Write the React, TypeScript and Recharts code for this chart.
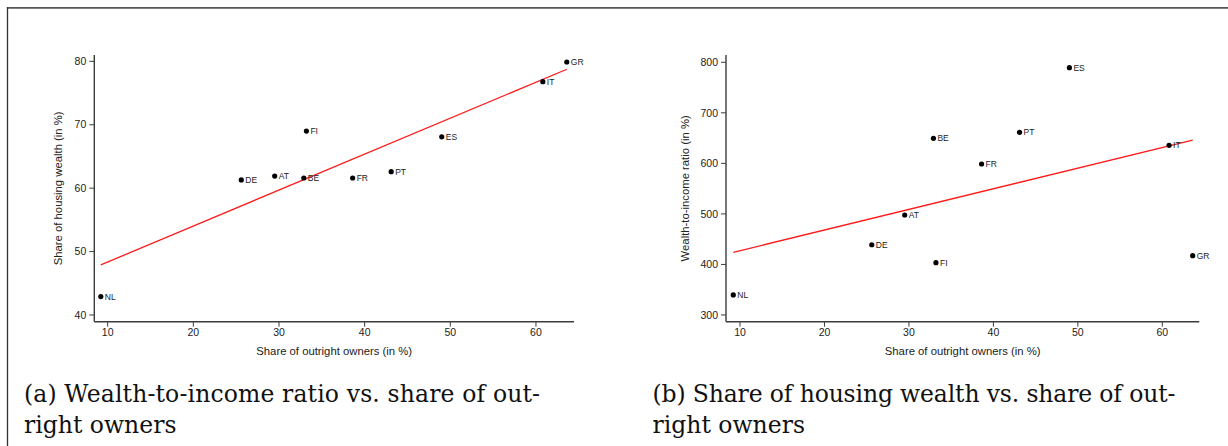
import React from 'react';
import { ComposedChart, Scatter, XAxis, YAxis, ReferenceLine } from 'recharts';

// ---- data ----
const countries = ['NL', 'DE', 'AT', 'BE', 'FI', 'FR', 'PT', 'ES', 'IT', 'GR'];
const outrightShare = [9.2, 25.6, 29.5, 32.9, 33.2, 38.6, 43.1, 49.0, 60.8, 63.6];
const housingWealthShare = [42.9, 61.3, 61.9, 61.6, 69.0, 61.6, 62.6, 68.1, 76.8, 79.9];
const wealthIncomeRatio = [339.6, 439, 497.8, 649.5, 403.5, 598.7, 661.4, 789.3, 635.7, 417.4];

const fitX = [9.2, 63.6];
const fitYA = [47.9, 78.75];
const fitYB = [424, 646];

const xTicks = [10, 20, 30, 40, 50, 60];
const yTicksA = [40, 50, 60, 70, 80];
const yTicksB = [300, 400, 500, 600, 700, 800];

const xDomainA = [8.44, 64.44];
const yDomainA = [38.94, 81.0];
const xDomainB = [8.34, 64.38];
const yDomainB = [286.7, 814.4];

const xTitle = 'Share of outright owners (in %)';
const yTitleA = 'Share of housing wealth (in %)';
const yTitleB = 'Wealth-to-income ratio (in %)';
const captionA = ['(a) Wealth-to-income ratio vs. share of out-', 'right owners'];
const captionB = ['(b) Share of housing wealth vs. share of out-', 'right owners'];

const dataA = countries.map((c, i) => ({ name: c, x: outrightShare[i], y: housingWealthShare[i] }));
const dataB = countries.map((c, i) => ({ name: c, x: outrightShare[i], y: wealthIncomeRatio[i] }));

const SANS = '"Liberation Sans", Arial, sans-serif';
const SERIF = '"DejaVu Serif", "Liberation Serif", serif';
const AXIS = '#3c3c3c';

const PointShape = (props: any) => {
  const { cx, cy, payload } = props;
  if (cx == null || cy == null) return null;
  return (
    <g>
      <circle cx={cx} cy={cy} r={2.6} fill="#000" />
      <text x={cx + 4} y={cy} dy="0.36em" fontSize={8.5} fill="#222" fontFamily={SANS}>
        {payload.name}
      </text>
    </g>
  );
};

const makeYTitle = (text: string, dx: number) => (props: any) => {
  const vb = props.viewBox || {};
  const x = vb.x + dx;
  const y = vb.y + vb.height / 2;
  return (
    <text
      x={x}
      y={y}
      transform={`rotate(-90 ${x} ${y})`}
      textAnchor="middle"
      dominantBaseline="central"
      fontSize={11.3}
      fill="#222"
      fontFamily={SANS}
    >
      {text}
    </text>
  );
};

const makeXTitle = (text: string) => (props: any) => {
  const vb = props.viewBox || {};
  return (
    <text
      x={vb.x + vb.width / 2}
      y={vb.y + 33.3}
      textAnchor="middle"
      fontSize={11.3}
      fill="#222"
      fontFamily={SANS}
    >
      {text}
    </text>
  );
};

type PanelProps = {
  data: any[];
  xDomain: number[];
  yDomain: number[];
  yTicks: number[];
  fitY: number[];
  yTitle: string;
  yTitleDx: number;
  marginLeft: number;
  marginRight: number;
};

const Panel = ({ data, xDomain, yDomain, yTicks, fitY, yTitle, yTitleDx, marginLeft, marginRight }: PanelProps) => (
  <ComposedChart
    width={614}
    height={370}
    data={data}
    margin={{ top: 55, right: marginRight, bottom: 18.3, left: marginLeft }}
  >
    <XAxis
      type="number"
      dataKey="x"
      domain={xDomain}
      ticks={xTicks}
      height={30}
      tickSize={5}
      tickMargin={2}
      axisLine={{ stroke: AXIS, strokeWidth: 1.4 }}
      tickLine={{ stroke: AXIS, strokeWidth: 1 }}
      tick={{ fontSize: 10.5, fill: '#222', fontFamily: SANS }}
      label={{ content: makeXTitle(xTitle) } as any}
    />
    <YAxis
      type="number"
      dataKey="y"
      domain={yDomain}
      ticks={yTicks}
      width={45}
      tickSize={5}
      tickMargin={3}
      axisLine={{ stroke: AXIS, strokeWidth: 1.4 }}
      tickLine={{ stroke: AXIS, strokeWidth: 1 }}
      tick={{ fontSize: 10.5, fill: '#222', fontFamily: SANS }}
      label={{ content: makeYTitle(yTitle, yTitleDx) } as any}
    />
    <ReferenceLine
      segment={[
        { x: fitX[0], y: fitY[0] },
        { x: fitX[1], y: fitY[1] },
      ]}
      stroke="#ff1a1a"
      strokeWidth={1.3}
      ifOverflow="visible"
    />
    <Scatter data={data} dataKey="y" shape={<PointShape />} isAnimationActive={false} />
  </ComposedChart>
);

const Caption = ({ x, lines, width1 }: { x: number; lines: string[]; width1: number }) => (
  <g style={{ fontFamily: SERIF, fontSize: 23.5 }} fill="#111">
    <text x={x} y={401.7} textLength={width1} lengthAdjust="spacing">{lines[0]}</text>
    <text x={x} y={433.3}>{lines[1]}</text>
  </g>
);

export default function App() {
  return (
    <div style={{ position: 'absolute', left: 0, top: 0, width: 1228, height: 446, background: '#fff', overflow: 'hidden' }}>
      <svg width={1228} height={446} style={{ position: 'absolute', left: 0, top: 0 }}>
        <line x1={7} y1={7.8} x2={1228} y2={7.8} stroke="#555" strokeWidth={1.8} />
        <line x1={7.5} y1={7} x2={7.5} y2={446} stroke="#333" strokeWidth={1.3} />
        <Caption x={24} lines={captionA} width1={516} />
        <Caption x={652.5} lines={captionB} width1={523} />
      </svg>
      <div style={{ position: 'absolute', left: 0, top: 0 }}>
        <Panel
          data={dataA}
          xDomain={xDomainA}
          yDomain={yDomainA}
          yTicks={yTicksA}
          fitY={fitYA}
          yTitle={yTitleA}
          yTitleDx={9}
          marginLeft={49.3}
          marginRight={40}
        />
      </div>
      <div style={{ position: 'absolute', left: 614, top: 0 }}>
        <Panel
          data={dataB}
          xDomain={xDomainB}
          yDomain={yDomainB}
          yTicks={yTicksB}
          fitY={fitYB}
          yTitle={yTitleB}
          yTitleDx={4}
          marginLeft={67}
          marginRight={28.7}
        />
      </div>
    </div>
  );
}
